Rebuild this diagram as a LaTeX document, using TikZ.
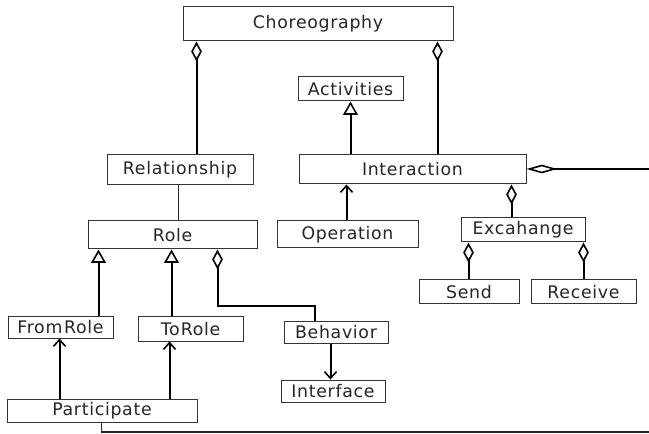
\documentclass[tikz,border=0pt]{standalone}
\usepackage{fontspec}
\setmainfont[LetterSpace=4]{DejaVu Sans}
\usetikzlibrary{arrows.meta,calc}
\begin{document}
\begin{tikzpicture}[x=0.75pt,y=-0.75pt,
  cls/.style={draw=black!80,line width=0.75pt,fill=white,inner sep=0pt,
    text=black!85,font=\fontsize{13}{15}\selectfont},
  link/.style={line width=1.5pt,black},
  thin link/.style={line width=0.8pt,black!85},
  agg/.style={link,{Diamond[open,length=15pt,width=8pt,line width=1.2pt]}-},
  wide agg/.style={link,{Diamond[open,length=23pt,width=6.5pt,line width=1.2pt]}-},
  gen/.style={link,-{Triangle[open,length=10pt,width=11pt,line width=1.2pt]}},
  dep/.style={link,-{Straight Barb[length=5pt,width=9pt,line width=1.2pt]}}]
\useasboundingbox (0,0) rectangle (649,434);

% classes
\node[cls, minimum width=270*0.75pt, minimum height=34*0.75pt] (chor) at (318,24) {Choreography};
\node[cls, minimum width=105*0.75pt, minimum height=24*0.75pt] (act) at (350.5,89) {Activities};
\node[cls, minimum width=146*0.75pt, minimum height=30*0.75pt] (rel) at (180,170) {Relationship};
\node[cls, minimum width=227*0.75pt, minimum height=29*0.75pt] (int) at (412.5,169.5) {Interaction};
\node[cls, minimum width=169*0.75pt, minimum height=28*0.75pt] (role) at (172.5,235) {Role};
\node[cls, minimum width=141*0.75pt, minimum height=27*0.75pt] (op) at (347.5,234.5) {Operation};
\node[cls, minimum width=124*0.75pt, minimum height=24*0.75pt] (exc) at (523,230) {Excahange};
\node[cls, minimum width=100*0.75pt, minimum height=24*0.75pt] (send) at (469,292) {Send};
\node[cls, minimum width=105*0.75pt, minimum height=24*0.75pt] (recv) at (583.5,292) {Receive};
\node[cls, minimum width=105*0.75pt, minimum height=21*0.75pt] (from) at (60.5,327.5) {From\hspace{0.1em}Role};
\node[cls, minimum width=105*0.75pt, minimum height=24*0.75pt] (to) at (190.5,329) {To\hspace{0.06em}Role};
\node[cls, minimum width=104*0.75pt, minimum height=21*0.75pt] (beh) at (336,332.5) {Behavior};
\node[cls, minimum width=104*0.75pt, minimum height=22*0.75pt] (iface) at (333,391) {Interface};
\node[cls, minimum width=190*0.75pt, minimum height=23*0.75pt] (part) at (102,410.5) {Participate};

% attachment points on the class borders
\coordinate (c1) at ($(chor.south west)+(14,0)$);
\coordinate (c2) at ($(chor.south west)+(255,0)$);
\coordinate (i1) at ($(int.north west)+(52,0)$);
\coordinate (r0) at ($(rel.south west)+(72,0)$);
\coordinate (o1) at ($(op.north west)+(70,0)$);
\coordinate (i2) at ($(int.south west)+(213,0)$);
\coordinate (e1) at ($(exc.south west)+(8,0)$);
\coordinate (e2) at ($(exc.south west)+(123,0)$);
\coordinate (r1) at ($(role.south west)+(11,0)$);
\coordinate (r2) at ($(role.south west)+(84,0)$);
\coordinate (r3) at ($(role.south west)+(130,0)$);
\coordinate (b1) at ($(beh.north west)+(31,0)$);
\coordinate (b2) at ($(beh.south west)+(47,0)$);
\coordinate (p1) at ($(part.north west)+(53,0)$);
\coordinate (p2) at ($(part.north west)+(163,0)$);
\coordinate (p3) at ($(part.south west)+(95,0)$);
\coordinate (edge1) at (649,169);
\coordinate (edge2) at (649,432);

% connectors
\draw[agg] (c1) -- (c1 |- rel.north);
\draw[agg] (c2) -- (c2 |- int.north);
\draw[gen] (i1) -- (i1 |- act.south);
\draw[thin link] (r0) -- (r0 |- role.north);
\draw[dep] (o1) -- (o1 |- int.south);
\draw[wide agg] (int.east |- edge1) -- (edge1);
\draw[agg] (i2) -- (i2 |- exc.north);
\draw[agg] (e1) -- (e1 |- send.north);
\draw[agg] (e2) -- (e2 |- recv.north);
\draw[gen] (r1 |- from.north) -- (r1);
\draw[gen] (r2 |- to.north) -- (r2);
\draw[agg] (r3) |- ($(b1)+(0,-15)$) -- (b1);
\draw[dep] (b2) -- (b2 |- iface.north);
\draw[dep] (p1) -- (p1 |- from.south);
\draw[dep] (p2) -- (p2 |- to.south);
\draw[thin link] (p3) |- (edge2);
\end{tikzpicture}
\end{document}
